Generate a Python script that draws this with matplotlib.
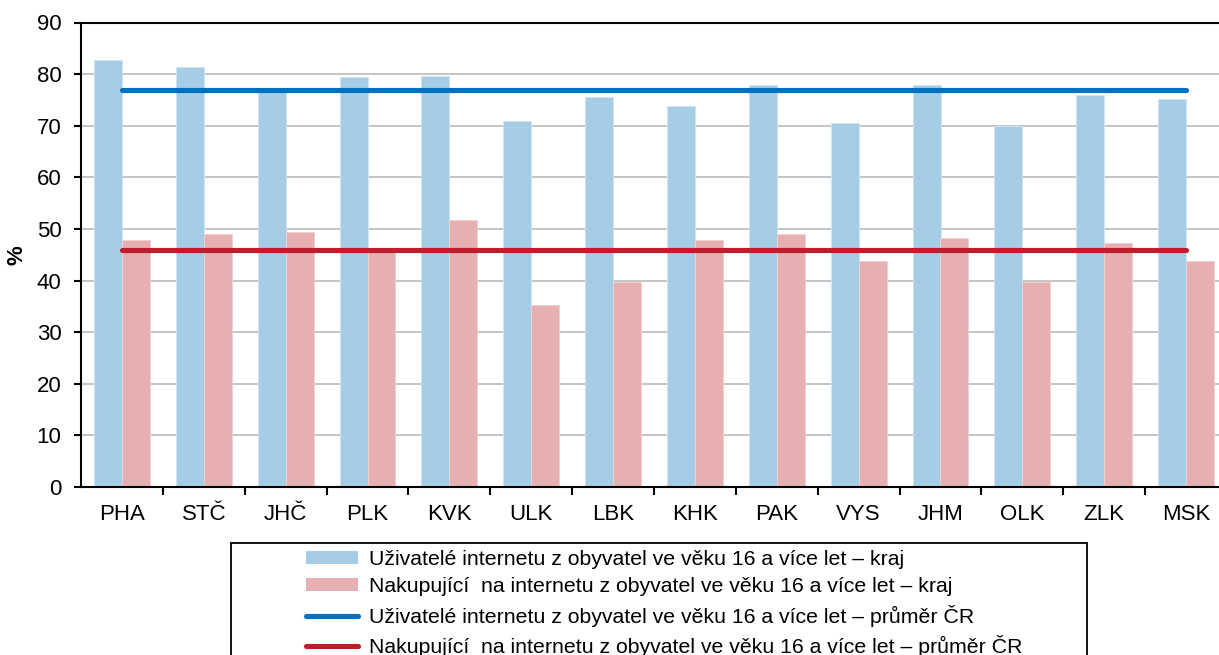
import numpy as np
import matplotlib
matplotlib.use('Agg')
import matplotlib.pyplot as plt
from matplotlib.patches import Patch, Rectangle
from matplotlib.lines import Line2D

plt.rcParams['font.family'] = ['Liberation Sans', 'DejaVu Sans']

kraje = ['PHA', 'STČ', 'JHČ', 'PLK', 'KVK', 'ULK', 'LBK', 'KHK', 'PAK', 'VYS', 'JHM', 'OLK', 'ZLK', 'MSK']
uzivatele = [82.8, 81.3, 77.0, 79.4, 79.7, 70.9, 75.5, 73.9, 77.9, 70.5, 77.9, 70.0, 75.9, 75.1]
nakupujici = [47.9, 49.1, 49.5, 46.4, 51.8, 35.2, 39.8, 47.9, 49.1, 43.7, 48.3, 39.8, 47.2, 43.7]
prumer_uzivatele = 76.9
prumer_nakupujici = 45.9

labels = ['Uživatelé internetu z obyvatel ve věku 16 a více let – kraj',
          'Nakupující  na internetu z obyvatel ve věku 16 a více let – kraj',
          'Uživatelé internetu z obyvatel ve věku 16 a více let – průměr ČR',
          'Nakupující  na internetu z obyvatel ve věku 16 a více let – průměr ČR']

c_blue_bar = '#a6cde6'
c_pink_bar = '#e6afb2'
c_blue_line = '#0070c0'
c_red_line = '#be1e2b'

W, H = 1219, 655
fig = plt.figure(figsize=(W / 100, H / 100), dpi=100)
ax = fig.add_axes([81 / W, 1 - 487 / H, (1227 - 81) / W, (487 - 22.5) / H])

x = np.arange(len(kraje))
w = 0.342
ax.bar(x - w / 2, uzivatele, w, color=c_blue_bar, edgecolor='#cfe3f1', linewidth=0.7, zorder=2)
ax.bar(x + w / 2, nakupujici, w, color=c_pink_bar, edgecolor='#f1d0d2', linewidth=0.7, zorder=2)
ax.plot([x[0], x[-1]], [prumer_uzivatele] * 2, color=c_blue_line, lw=3.7, solid_capstyle='round', zorder=3)
ax.plot([x[0], x[-1]], [prumer_nakupujici] * 2, color=c_red_line, lw=3.7, solid_capstyle='round', zorder=3)

ax.set_xlim(-0.5, len(kraje) - 0.5)
ax.set_ylim(0, 90)
ax.set_yticks(range(0, 91, 10))
ax.yaxis.grid(True, color='#c0c0c0', lw=1.3, zorder=0)
ax.set_axisbelow(True)

ax.set_xticks(x)
ax.set_xticklabels(kraje, fontsize=16)
ax.tick_params(axis='x', which='major', length=0, pad=12)
ax.set_xticks(np.arange(0.5, len(kraje) - 0.5, 1), minor=True)
ax.tick_params(axis='x', which='minor', length=6, width=1.5, direction='out')
ax.tick_params(axis='y', length=5, width=1.5, labelsize=16, pad=9)
for s in ax.spines.values():
    s.set_linewidth(1.5)
ax.set_ylabel('%', fontsize=16, fontweight='bold')
ax.yaxis.set_label_coords(-0.047, 0.5)

# ramecek legendy
fig.patches.append(Rectangle((231 / W, -0.05), (1087 - 231) / W, 0.05 + 1 - 543 / H,
                             transform=fig.transFigure, fill=False, edgecolor='black', lw=1.3))

handles = [Patch(facecolor=c_blue_bar, edgecolor='none'),
           Patch(facecolor=c_pink_bar, edgecolor='none'),
           Line2D([], [], color=c_blue_line, lw=3.7, solid_capstyle='round'),
           Line2D([], [], color=c_red_line, lw=3.7, solid_capstyle='round')]
fig.legend(handles, labels, loc='upper left', bbox_to_anchor=(306 / W, 1 - 550 / H),
           frameon=False, borderpad=0, borderaxespad=0,
           prop={'family': ['Liberation Sans Narrow', 'Liberation Sans'], 'size': 15.3},
           handlelength=2.45, handleheight=0.58, handletextpad=0.5, labelspacing=0.39)

fig.savefig('out.png', dpi=100)
